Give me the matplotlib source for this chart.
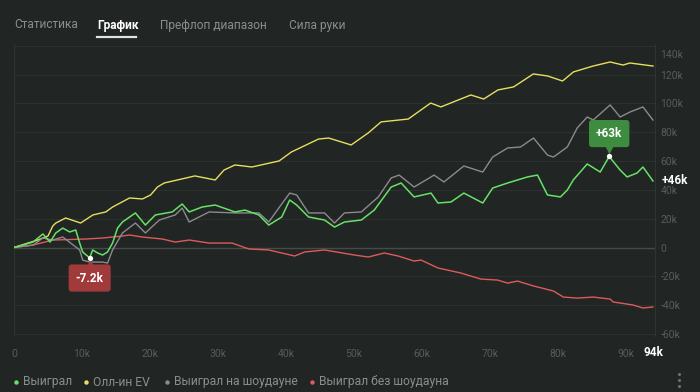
import matplotlib
matplotlib.use('Agg')
import matplotlib.pyplot as plt
from matplotlib.lines import Line2D
from matplotlib.transforms import ScaledTranslation
import numpy as np

plt.rcParams['font.family'] = ['Roboto', 'DejaVu Sans']

W, H = 700, 392
BG = '#212524'

# ---------------- data (hands in thousands, winnings in thousands) ----------------
won_hands = [0, 2.8, 4.25, 5.3, 6.15, 7.17, 8.2, 9.08, 9.66, 10.1, 11.13, 11.57, 12.3, 13.03, 13.76,
             14.5, 15.23, 15.96, 17.86, 19.33, 20.79, 23.28, 24.74, 25.77, 27.67, 29.58, 32.5, 33.97,
             36.02, 37.48, 39.39, 40.56, 41.58, 43.34, 45.68, 47.15, 48.61, 51.1, 53.0, 55.49, 56.95,
             58.86, 61.35, 62.37, 64.28, 66.18, 68.96, 70.42, 72.62, 75.55, 77.01, 78.48, 80.38, 81.4,
             82.28, 84.33, 86.24, 87.56, 89.17, 90.19, 91.65, 92.53, 94.0]
won_vals = [0, 3.8, 9.4, 3.8, 10.1, 13.5, 10.8, 12.2, 3.1, -3.1, -7.2, -1.7, -3.8, -5.2, -3.1,
            3.1, 13.5, 17.7, 24.0, 15.6, 22.6, 24.7, 30.2, 24.7, 28.1, 29.5, 24.7, 26.0,
            22.6, 15.6, 21.2, 33.0, 29.5, 21.2, 19.1, 14.2, 17.7, 19.1, 26.0, 42.0, 44.8,
            35.1, 37.8, 30.9, 31.6, 37.8, 30.9, 41.3, 44.8, 49.0, 50.3, 36.5, 35.1, 39.9,
            46.9, 58.0, 52.4, 63.2, 53.8, 49.0, 51.7, 55.9, 46.2]

ev_hands = [0, 2.05, 3.5, 5.0, 5.7, 6.15, 7.6, 9.8, 11.6, 13.5, 14.5, 17.0, 18.9, 20.1, 21.1,
            22.1, 24.7, 26.6, 29.6, 30.9, 32.5, 35.0, 39.0, 40.8, 44.8, 46.3, 49.6, 52.1, 54.0,
            58.0, 61.3, 62.8, 67.2, 69.1, 71.2, 73.5, 76.4, 78.5, 80.7, 82.3, 85.2, 87.7, 89.6,
            90.6, 94.0]
ev_vals = [0, 3.1, 5.2, 8.0, 14.9, 17.0, 20.5, 17.0, 22.6, 24.7, 28.1, 34.4, 33.7, 36.5, 42.0,
           44.8, 47.6, 49.7, 46.9, 53.8, 57.3, 55.9, 60.1, 66.3, 75.3, 76.0, 71.2, 79.5, 87.2,
           89.2, 100.3, 97.6, 105.9, 103.1, 109.4, 111.5, 120.5, 119.1, 115.6, 121.9, 126.0, 128.8,
           126.7, 128.1, 126.0]

sd_hands = [0, 2.8, 4.25, 5.71, 7.17, 9.66, 10.1, 11.13, 13.03, 13.76, 14.5, 15.96, 17.86, 19.33,
            21.38, 23.72, 24.74, 25.77, 28.7, 32.5, 36.02, 37.48, 38.95, 40.56, 41.58, 43.34, 45.68,
            47.15, 48.61, 51.1, 53.59, 55.49, 56.66, 58.86, 61.35, 61.79, 63.25, 66.18, 68.96, 70.42,
            72.62, 74.52, 76.43, 78.48, 79.36, 81.4, 82.87, 84.33, 85.21, 87.7, 89.17, 90.63, 92.53,
            94.0]
sd_vals = [0, 1.7, 6.6, 5.2, 7.3, -1.7, -8.7, -10.1, -10.1, -10.8, -1.7, 10.1, 17.0, 10.1,
           19.1, 22.6, 27.4, 17.7, 24.7, 24.0, 24.0, 17.7, 27.4, 37.8, 36.5, 24.0, 24.0,
           17.0, 24.0, 24.7, 35.1, 48.3, 50.3, 42.0, 49.0, 50.3, 45.5, 56.6, 52.4, 62.8,
           69.1, 69.8, 76.0, 64.2, 62.8, 69.8, 83.1, 90.6, 88.5, 99.0, 90.6, 94.1, 97.6,
           88.5]

nsd_hands = [0, 2.78, 5.71, 10.54, 13.03, 15.96, 16.98, 18.89, 21.82, 23.72, 25.77, 28.7, 32.06,
             34.55, 37.48, 41.29, 42.75, 45.68, 50.07, 52.12, 54.47, 56.52, 58.86, 59.88, 62.37,
             65.74, 68.67, 71.16, 72.62, 74.08, 76.43, 79.36, 80.82, 82.87, 85.21, 87.7, 88.14,
             91.07, 92.53, 94.0]
nsd_vals = [0, 1.7, 5.2, 5.9, 6.6, 8.0, 8.7, 7.3, 5.9, 3.8, 5.2, 3.1, 3.1,
            -1.0, -1.7, -5.9, -3.1, -1.7, -5.2, -6.6, -3.8, -5.9, -9.4, -8.7, -14.2,
            -17.7, -21.9, -22.6, -24.7, -23.3, -26.7, -30.2, -34.4, -35.1, -34.4, -35.8, -37.8,
            -39.9, -42.0, -41.3]

x_ticks = [0, 10, 20, 30, 40, 50, 60, 70, 80, 90]
x_tick_labels = ['0', '10k', '20k', '30k', '40k', '50k', '60k', '70k', '80k', '90k']
y_ticks = [-60, -40, -20, 0, 20, 40, 60, 80, 100, 120, 140]
y_tick_labels = ['-60k', '-40k', '-20k', '0', '20k', '40k', '60k', '80k', '100k', '120k', '140k']
total_hands_label = '94k'

tabs = ['Статистика', 'График', 'Префлоп диапазон', 'Сила руки']
legend_labels = ['Выиграл', 'Олл-ин EV', 'Выиграл на шоудауне', 'Выиграл без шоудауна']

C_WON = '#66e266'
C_EV = '#e6df5f'
C_SD = '#8b8b8b'
C_NSD = '#dc5b5b'

# ---------------- figure ----------------
fig = plt.figure(figsize=(W / 100, H / 100), dpi=100, facecolor=BG)
ax_top, ax_bot = 43.7, 336.1
ax = fig.add_axes([14 / W, 1 - ax_bot / H, 641 / W, (ax_bot - ax_top) / H])
ax.set_facecolor(BG)
ax.set_xlim(0, 94.3)
ax.set_ylim(-61.5, 141.5)

for s in ['top', 'bottom']:
    ax.spines[s].set_visible(False)
for s in ['left', 'right']:
    ax.spines[s].set_color('#2f3332')
    ax.spines[s].set_linewidth(0.8)

ax.yaxis.tick_right()
ax.set_yticks(y_ticks)
ax.set_yticklabels(y_tick_labels)
ax.set_xticks(x_ticks)
ax.set_xticklabels(x_tick_labels)
ax.tick_params(axis='y', length=0, pad=4, labelcolor='#585c5b', labelsize=7.5)
ax.tick_params(axis='x', length=0, pad=9, labelcolor='#585c5b', labelsize=7.5)
ax.yaxis.grid(True, color='#2c302f', lw=0.8)
ax.xaxis.grid(False)
ax.set_axisbelow(True)
ax.axhline(0, color='#464a49', lw=1.0, zorder=1)

# push the top tick label down into view like the reference
for lab in ax.get_yticklabels():
    if lab.get_text() == '140k':
        lab.set_transform(lab.get_transform() + ScaledTranslation(0, -8 / 100, fig.dpi_scale_trans))

ax.plot(nsd_hands, nsd_vals, color=C_NSD, lw=1.0, zorder=3)
ax.plot(ev_hands, ev_vals, color=C_EV, lw=1.0, zorder=3)
ax.plot(sd_hands, sd_vals, color=C_SD, lw=1.0, zorder=4)
ax.plot(won_hands, won_vals, color=C_WON, lw=1.1, zorder=5)

# total hands label
ax.text(94.0, (ax_bot - 352.5) / (ax_bot - ax_top), total_hands_label,
        transform=ax.get_xaxis_transform(), ha='center', va='center',
        color='white', fontsize=8.5, fontweight='bold', clip_on=False)

# final value label
final_v = won_vals[-1]
ax.annotate(f'{final_v:+.0f}k', xy=(1, final_v), xycoords=('axes fraction', 'data'),
            xytext=(5, 0), textcoords='offset points', ha='left', va='center',
            color='white', fontsize=8.5, fontweight='bold', annotation_clip=False)

# peak / trough tooltips
i_max = int(np.argmax(won_vals))
i_min = int(np.argmin(won_vals))
px_max = (won_hands[i_max], won_vals[i_max])
px_min = (won_hands[i_min], won_vals[i_min])

ax.annotate(f'{px_max[1]:+.0f}k', xy=px_max, xytext=(0, 16.5), textcoords='offset points',
            ha='center', va='center', color='white', fontsize=8.5, fontweight='bold',
            bbox=dict(boxstyle='round,pad=0.6,rounding_size=0.25', fc='#3d8c40', ec='none'), zorder=9)
ax.plot([px_max[0]], [px_max[1]], marker='v', ms=6, color='#3d8c40', mec='none', zorder=9,
        transform=ax.transData + ScaledTranslation(0, 6.5 / 100, fig.dpi_scale_trans))

ax.annotate(f'{px_min[1]:.1f}k', xy=px_min, xytext=(0, -14.5), textcoords='offset points',
            ha='center', va='center', color='white', fontsize=8.5, fontweight='bold',
            bbox=dict(boxstyle='round,pad=0.6,rounding_size=0.25', fc='#a13a3b', ec='none'), zorder=9)
ax.plot([px_min[0]], [px_min[1]], marker='^', ms=6, color='#a13a3b', mec='none', zorder=9,
        transform=ax.transData + ScaledTranslation(0, -5 / 100, fig.dpi_scale_trans))

ax.plot([px_max[0], px_min[0]], [px_max[1], px_min[1]], 'o', ls='none', color='white',
        ms=3.8, mec='none', zorder=10)


def fp(x, y):
    return x / W, 1 - y / H


# tabs
tab_x = [14, 97, 160, 289]
for t, x in zip(tabs, tab_x):
    active = (t == 'График')
    fig.text(*fp(x, 25), t, ha='left', va='center', fontsize=8.6,
             color='white' if active else '#8a8e8d',
             fontweight='bold' if active else 'normal')
fig.add_artist(Line2D([97 / W, 136 / W], [1 - 36.5 / H] * 2, color='#e2e2e2', lw=1.6))

# legend
leg_dot_x = [16, 86, 167, 312]
leg_txt_x = [23, 93, 174, 319]
for lab, c, dx, tx in zip(legend_labels, [C_WON, C_EV, C_SD, C_NSD], leg_dot_x, leg_txt_x):
    fig.add_artist(Line2D([dx / W], [1 - 382 / H], marker='o', ms=3.2, color=c, mec='none'))
    fig.text(*fp(tx, 382), lab, ha='left', va='center', fontsize=8.7, color='#8a8e8d')

# kebab menu
for yy in [374, 380, 386]:
    fig.add_artist(Line2D([679 / W], [1 - yy / H], marker='o', ms=2.2, color='#6d7170', mec='none'))

fig.savefig('out.png', dpi=100, facecolor=BG)
